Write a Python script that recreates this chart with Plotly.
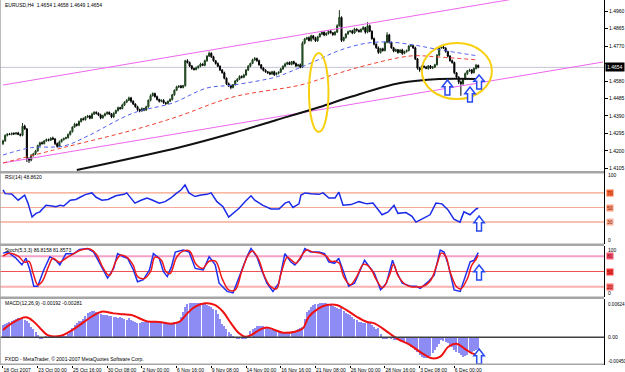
import plotly.graph_objects as go

# ---------------- data ----------------
title_text = "EURUSD,H4  1.4654 1.4658 1.4649 1.4654"
first_open = 4240  # pips after "1."
closes = [
    4255, 4285, 4292, 4290, 4296, 4293, 4298, 4290, 4285, 4335,
    4320, 4160, 4150, 4175, 4185, 4200, 4230, 4245, 4240, 4255,
    4262, 4258, 4270, 4265, 4240, 4225, 4250, 4262, 4268, 4272,
    4290, 4305, 4330, 4345, 4340, 4360, 4375, 4370, 4385, 4390,
    4378, 4400, 4410, 4405, 4395, 4380, 4392, 4402, 4410, 4400,
    4385, 4405, 4420, 4435, 4430, 4450, 4465, 4475, 4488, 4470,
    4455, 4440, 4425, 4418, 4430, 4422, 4440, 4475, 4500, 4512,
    4495, 4480, 4470, 4475, 4462, 4458, 4470, 4480, 4505, 4530,
    4548, 4552, 4545, 4555, 4690, 4680, 4662, 4648, 4642, 4652,
    4660, 4672, 4665, 4690, 4715, 4730, 4712, 4690, 4675, 4660,
    4640, 4625, 4595, 4565, 4555, 4545, 4560, 4580, 4590, 4605,
    4600, 4612, 4640, 4660, 4675, 4695, 4702, 4690, 4668, 4650,
    4638, 4630, 4625, 4618, 4630, 4615, 4622, 4628, 4645, 4660,
    4672, 4680, 4670, 4685, 4675, 4662, 4668, 4655, 4785, 4808,
    4815, 4800, 4825, 4812, 4798, 4820, 4835, 4845, 4830, 4838,
    4850, 4842, 4832, 4845, 4880, 4925, 4800, 4815, 4835, 4848,
    4852, 4840, 4862, 4855, 4848, 4860, 4870, 4845, 4880, 4850,
    4810, 4780, 4760, 4735, 4755, 4745, 4790, 4830, 4790, 4760,
    4742, 4750, 4735, 4748, 4730, 4740, 4745, 4770, 4772, 4760,
    4700, 4650, 4640, 4660, 4655, 4648, 4662, 4650, 4655, 4668,
    4720, 4760, 4765, 4758, 4740, 4715, 4690, 4680, 4625, 4600,
    4575, 4565, 4590, 4620, 4635, 4640, 4625, 4648, 4665, 4654,
]
hi_wick = [
    6, 5, 4, 6, 3, 5, 4, 6, 5, 17, 8, 5, 6, 8, 5, 6, 4, 5, 7, 4,
    6, 5, 4, 8, 5, 6, 7, 4, 5, 6, 5, 6, 4, 8, 5, 6, 4, 7, 5, 6,
    5, 8, 6, 5, 4, 7, 5, 6, 5, 4, 6, 5, 4, 6, 5, 7, 5, 6, 7, 6,
    5, 4, 6, 5, 7, 4, 6, 5, 8, 6, 5, 6, 4, 5, 6, 5, 4, 6, 5, 4,
    6, 5, 7, 4, 5, 8, 6, 5, 4, 6, 5, 7, 4, 6, 5, 10, 6, 5, 4, 6,
    5, 4, 6, 5, 7, 5, 4, 6, 5, 6, 5, 7, 4, 6, 5, 6, 8, 5, 6, 4,
    5, 6, 4, 7, 5, 6, 5, 4, 6, 5, 7, 5, 6, 4, 5, 6, 5, 7, 10, 6,
    5, 7, 6, 4, 8, 5, 6, 5, 4, 6, 5, 7, 4, 6, 8, 40, 6, 5, 4, 6,
    5, 6, 7, 4, 5, 6, 8, 4, 20, 6, 5, 6, 4, 7, 5, 6, 5, 15, 6, 4,
    5, 6, 4, 5, 7, 5, 6, 4, 6, 5, 6, 5, 7, 4, 5, 6, 4, 5, 6, 5,
    6, 7, 10, 5, 6, 4, 5, 6, 5, 4, 6, 8, 5, 6, 4, 7, 5, 6, 8, 4,
]
lo_wick = [
    8, 5, 6, 4, 5, 6, 5, 4, 6, 5, 5, 20, 15, 6, 5, 7, 4, 6, 5, 4,
    5, 6, 4, 5, 8, 7, 5, 4, 6, 5, 4, 6, 5, 4, 7, 5, 6, 4, 5, 6,
    6, 4, 5, 7, 6, 8, 5, 4, 6, 5, 7, 5, 4, 6, 5, 4, 6, 5, 4, 8,
    6, 5, 7, 8, 5, 6, 4, 5, 6, 4, 5, 6, 7, 5, 6, 8, 5, 4, 6, 5,
    4, 6, 5, 5, 6, 5, 6, 7, 5, 4, 5, 6, 4, 5, 6, 5, 7, 5, 6, 4,
    6, 5, 6, 7, 8, 10, 5, 4, 6, 5, 6, 5, 4, 6, 5, 4, 5, 6, 5, 7,
    6, 5, 7, 6, 4, 8, 5, 6, 5, 4, 5, 6, 4, 5, 6, 7, 5, 6, 5, 6,
    6, 5, 7, 8, 6, 5, 4, 6, 7, 5, 6, 5, 7, 6, 4, 5, 8, 6, 5, 4,
    5, 6, 4, 7, 5, 6, 5, 8, 6, 5, 6, 7, 5, 8, 6, 5, 4, 6, 7, 5,
    6, 5, 7, 4, 8, 5, 6, 4, 5, 6, 6, 8, 10, 5, 6, 4, 7, 5, 6, 5,
    4, 6, 5, 5, 6, 7, 5, 6, 8, 10, 12, 65, 6, 5, 7, 5, 8, 4, 6, 5,
]

# moving averages (bar index, price pips)
ma_blue_x = [0, 13, 28, 39, 60, 78, 94, 106, 126, 132, 137, 146, 152, 160, 168, 177, 188, 201, 219]
ma_blue_y = [4178, 4218, 4227, 4281, 4406, 4460, 4542, 4558, 4602, 4629, 4653, 4699, 4732, 4765, 4786, 4792, 4778, 4750, 4716]
ma_red_x = [0, 29, 60, 80, 106, 137, 152, 168, 188, 201, 219]
ma_red_y = [4135, 4222, 4314, 4385, 4493, 4558, 4613, 4667, 4716, 4710, 4694]
ma_black_x = [34, 82, 106, 126, 146, 160, 183, 201, 219]
ma_black_y = [4097, 4222, 4298, 4368, 4439, 4493, 4569, 4591, 4591]

# channel lines
chan_x = [0, 276.5]
chan_low_y = [4135, 4683]
chan_up_y = [4558, 5107]

# yellow ellipses (bar0, bar1, price0, price1)
ellipses = [(141, 150, 4303, 4732), (193, 225.3, 4482, 4786)]

# blue arrows: (panel, centre bar, bottom, top)
arrows = [
    ("y", 204.8, 1.4504, 1.4585),
    ("y", 215.2, 1.4466, 1.4547),
    ("y", 219.4, 1.4537, 1.4613),
    ("y2", 219.4, 17.8, 38.4),
    ("y3", 219.4, 33.5, 62.6),
    ("y4", 219.4, -0.00434, -0.00190),
]

# RSI(14)
rsi_label = "RSI(14) 48.8620"
rsi_x = [0, 1, 4, 7, 10, 11.5, 13.4, 15.2, 17, 19.8, 22.6, 24.4, 26.3, 28, 31, 33.6, 35.5, 38.2, 41, 42.9,
         45.6, 48.4, 52, 55.8, 57, 59, 60.8, 63.6, 66.4, 69, 72, 74.7, 77.4, 79.3, 82, 83.9, 85.7, 88.5, 91.2, 94,
         95.9, 98.6, 101.4, 104, 106, 108.8, 111.5, 114.3, 116, 119.8, 123.5, 127.2, 130, 131.8, 133.6, 136.4, 137.3, 139.2, 142, 145.6,
         147.5, 150.2, 153, 154.8, 156.7, 160.4, 164, 167.7, 170.5, 172.4, 174.7, 177.5, 180.2, 182, 185.7, 188.5, 190.3, 193, 196.8, 199.5,
         202.3, 205, 207.8, 210.6, 212.4, 215.2, 218, 219]
rsi_v = [74, 69, 68.5, 60, 67, 56, 37, 42, 44, 53, 52, 51, 53, 52, 60, 61, 64, 68, 70, 64,
         60, 61, 66, 68, 70, 63, 56, 60, 63, 60, 56, 58, 63, 68, 74, 81, 70, 65, 67, 68,
         70, 58, 51, 37, 42, 49, 58, 66, 60, 53, 48, 48, 56, 58, 50, 55, 67, 70, 69, 68,
         70, 63, 63, 71, 53, 54, 58, 55, 56, 49, 40, 44, 53, 42, 43, 38, 30, 34, 40, 56,
         55, 47, 34, 30, 44, 40, 48, 48.9]
rsi_levels = [70, 50, 30]

# Stochastic(5,3,3)
stoch_label = "Stoch(5,3,3) 86.8158 81.8573"
st_main_x = [0, 2.3, 6, 8.7, 10.6, 12.4, 14.2, 16, 18.8, 21.6, 24.3, 26.2, 29, 32.6, 35.3, 39, 41.8, 44.5, 48.2, 51,
             52.8, 55.5, 57.4, 60.1, 62, 64.7, 67.5, 69.3, 72, 73.9, 75.7, 77.6, 79.4, 83, 85.8, 88.6, 92.3, 95, 97.8, 99.6,
             103.3, 106, 108.8, 112.4, 114.3, 117, 118.9, 121.6, 124.4, 127.1, 129.9, 132.6, 134.5, 137.2, 139.1, 141.8, 145.5, 148.2, 150.1, 152.8,
             154.7, 156.5, 159.3, 162, 164.8, 166.6, 169.4, 171.2, 174, 176.7, 179.5, 181.3, 184, 187.7, 190.5, 192.3, 196, 198.7, 201.5, 203.3,
             205.2, 207.9, 210.7, 213.4, 215.3, 217.1, 219]
st_main_v = [86, 88, 76, 63, 76, 53, 21, 21, 53, 79, 72, 63, 85, 85, 93, 95, 88, 66, 37, 56,
             85, 79, 76, 53, 30, 34, 53, 85, 76, 50, 40, 59, 88, 92, 88, 56, 53, 79, 63, 27,
             11, 8, 40, 79, 95, 79, 56, 27, 11, 27, 85, 69, 63, 76, 95, 88, 88, 85, 69, 66,
             76, 53, 21, 27, 56, 72, 56, 46, 14, 27, 72, 50, 27, 21, 21, 17, 30, 43, 92, 88,
             63, 14, 11, 43, 69, 72, 86.8]
st_sig_x = [0, 3, 7, 10, 12, 14, 16, 18, 21, 23, 26, 29, 33, 36, 40, 43, 46, 49, 52, 54,
            57, 60, 62, 65, 68, 70, 73, 75, 77, 80, 83, 86, 89, 92, 95, 98, 101, 104, 107, 110,
            113, 115, 118, 120, 123, 126, 128, 131, 133, 135, 138, 140, 143, 146, 149, 151, 153, 155, 157, 160,
            163, 166, 168, 170, 172, 175, 178, 180, 182, 185, 188, 191, 193, 197, 200, 202, 204, 206, 209, 211,
            214, 216, 218, 219]
st_sig_v = [80, 86, 80, 68, 70, 45, 24, 30, 60, 76, 68, 76, 86, 92, 94, 84, 58, 42, 70, 82,
            78, 62, 40, 36, 50, 78, 72, 50, 46, 78, 90, 90, 64, 56, 70, 70, 36, 14, 14, 50,
            82, 90, 72, 46, 22, 16, 44, 78, 72, 66, 84, 92, 88, 86, 80, 70, 70, 66, 40, 24,
            40, 64, 62, 52, 34, 18, 42, 64, 42, 26, 20, 20, 20, 32, 64, 86, 80, 50, 20, 16,
            36, 62, 74, 81.9]
stoch_levels = [80, 50, 20]

# MACD(12,26,9): histogram per bar (1e-5 units) and signal points
macd_label = "MACD(12,26,9) -0.00192 -0.00281"
macd_hist = [
    200, 215, 230, 245, 260, 280, 300, 310, 310, 305,
    290, 270, 240, 170, 130, 90, 40, -15, -20, 0,
    10, 15, 20, 10, 5, 15, 20, 25, 15, 20,
    60, 90, 150, 200, 240, 260, 270, 300, 350, 400,
    420, 430, 425, 410, 400, 380, 370, 360, 365, 350,
    340, 335, 330, 320, 330, 315, 300, 290, 310, 280,
    260, 250, 240, 230, 245, 250, 255, 260, 250, 265,
    270, 265, 255, 250, 230, 225, 220, 228, 235, 245,
    255, 260, 330, 420, 500, 550, 560, 565, 564, 560,
    555, 560, 550, 540, 525, 510, 490, 460, 440, 380,
    300, 220, 180, 130, 90, 60, 30, 0, -20, -16,
    -25, -30, -16, 30, 100, 140, 160, 180, 184, 190,
    180, 170, 150, 130, 120, 119, 100, 90, 92, 92,
    95, 85, 90, 95, 92, 110, 130, 150, 173, 300,
    420, 444, 500, 525, 540, 550, 555, 560, 555, 553,
    540, 525, 510, 490, 470, 460, 470, 430, 400, 380,
    363, 330, 300, 280, 254, 245, 240, 235, 230, 228,
    200, 170, 140, 146, 60, -16, -20, -16, -10, -30,
    -40, -44, -50, -60, -80, -98, -110, -130, -150, -179,
    -200, -240, -280, -315, -330, -340, -342, -300, -250, -206,
    -160, -110, -44, -60, -72, -100, -130, -153, -200, -240,
    -261, -290, -315, -300, -280, -260, -240, -220, -200, -192,
]
macd_sig_x = [0, 4, 10.6, 14.2, 17.9, 20.6, 26.2, 30.7, 35.3, 40.8, 45.4, 50.9, 55.5, 59.2, 66.5, 72, 77.6, 81.2, 84.9, 88.6,
              93.2, 97.8, 101.4, 105.1, 108.8, 111.5, 114.3, 118, 121.6, 125.3, 129, 134.5, 138.2, 140.9, 145.5, 149.2, 153.8, 158.3, 163, 167.5,
              171.2, 174.9, 178.5, 182.2, 187.7, 193.2, 197.8, 201.5, 205.2, 209, 212.5, 216.2, 219]
macd_sig_v = [119, 228, 325, 254, 119, 37, 21, 92, 200, 335, 417, 390, 374, 363, 260, 250, 222, 250, 390, 498,
              553, 525, 417, 228, 65, 10, 37, 119, 162, 119, 76, 92, 146, 335, 472, 525, 525, 444, 335, 254,
              228, 146, 54, -32, -125, -261, -342, -315, -153, -105, -179, -261, -281]

# axes labels
price_ticks = [1.4960, 1.4865, 1.4770, 1.4675, 1.4580, 1.4485, 1.4390, 1.4295, 1.4200, 1.4105]
date_tick_bars = [0, 16, 32, 48, 64, 80, 96, 112, 128, 144, 160, 176, 192, 208]
date_tick_text = ["18 Oct 2007", "23 Oct 00:00", "25 Oct 16:00", "30 Oct 08:00", "2 Nov 00:00",
                  "6 Nov 16:00", "9 Nov 08:00", "14 Nov 00:00", "16 Nov 16:00", "21 Nov 08:00",
                  "26 Nov 00:00", "28 Nov 16:00", "3 Dec 08:00", "6 Dec 00:00"]
macd_top_label, macd_bot_label = "0.00624", "-0.00450"
footer = "FXDD - MetaTrader, \u00a9 2001-2007 MetaQuotes Software Corp."

# ---------------- derived plotting values ----------------
def P(v):
    return 1 + v / 10000.0

bars = list(range(len(closes)))
c = [P(v) for v in closes]
o = [P(first_open)] + c[:-1]
h = [max(oo, cc) + w / 10000.0 for oo, cc, w in zip(o, c, hi_wick)]
l = [min(oo, cc) - w / 10000.0 for oo, cc, w in zip(o, c, lo_wick)]

W, H = 625, 372
ML, MR, MT, MB = 0, 21, 0, 7
PW, PH = W - ML - MR, H - MT - MB
def py(ypx):
    return 1 - (ypx - MT) / PH
def pxx(xpx):
    return (xpx - ML) / PW

FONT = "Liberation Sans"
fig = go.Figure()

# main panel
fig.add_trace(go.Scatter(x=chan_x, y=[P(v) for v in chan_up_y], mode="lines",
                         line=dict(color="#ee66ee", width=1), yaxis="y"))
fig.add_trace(go.Scatter(x=chan_x, y=[P(v) for v in chan_low_y], mode="lines",
                         line=dict(color="#ee66ee", width=1), yaxis="y"))
fig.add_trace(go.Scatter(x=ma_black_x, y=[P(v) for v in ma_black_y], mode="lines",
                         line=dict(color="#111111", width=2, shape="spline"), yaxis="y"))
fig.add_trace(go.Scatter(x=ma_red_x, y=[P(v) for v in ma_red_y], mode="lines",
                         line=dict(color="#f04030", width=1, dash="4px,3px", shape="spline"), yaxis="y"))
fig.add_trace(go.Scatter(x=ma_blue_x, y=[P(v) for v in ma_blue_y], mode="lines",
                         line=dict(color="#5060f0", width=1, dash="4px,3px", shape="spline"), yaxis="y"))
fig.add_trace(go.Candlestick(x=bars, open=o, high=h, low=l, close=c, yaxis="y",
                             whiskerwidth=0,
                             increasing=dict(line=dict(color="#1a3a1a", width=1), fillcolor="#2f8a2f"),
                             decreasing=dict(line=dict(color="#000000", width=1), fillcolor="#000000")))

# RSI
fig.add_trace(go.Scatter(x=rsi_x, y=rsi_v, mode="lines", line=dict(color="#1a2ae8", width=1.5), yaxis="y2"))
# Stoch
fig.add_trace(go.Scatter(x=st_main_x, y=st_main_v, mode="lines", line=dict(color="#2030f0", width=1.5), yaxis="y3"))
fig.add_trace(go.Scatter(x=st_sig_x, y=st_sig_v, mode="lines", line=dict(color="#f01818", width=1.5, shape="spline"), yaxis="y3"))
# MACD
fig.add_trace(go.Bar(x=bars, y=[v / 100000.0 for v in macd_hist], width=0.5,
                     marker=dict(color="#8c8cf4", line=dict(width=0)), yaxis="y4"))
fig.add_trace(go.Scatter(x=macd_sig_x, y=[v / 100000.0 for v in macd_sig_v], mode="lines",
                         line=dict(color="#f01010", width=2, shape="spline"), yaxis="y4"))

shapes = []
# bid line
shapes.append(dict(type="line", xref="x domain", x0=0, x1=1, yref="y", y0=c[-1], y1=c[-1],
                   line=dict(color="#c4c4d4", width=1), layer="below"))
# level lines
for lv, col, wd in zip(rsi_levels, ["#f08a66", "#f4aa96", "#f8c0b0"], [1, 1, 2]):
    shapes.append(dict(type="line", xref="x domain", x0=0, x1=1, yref="y2", y0=lv, y1=lv,
                       line=dict(color=col, width=wd), layer="below"))
for lv, col, wd in zip(stoch_levels, ["#f4a0c8", "#f05050", "#f8b0b0"], [2, 1, 2]):
    shapes.append(dict(type="line", xref="x domain", x0=0, x1=1, yref="y3", y0=lv, y1=lv,
                       line=dict(color=col, width=wd), layer="below"))
shapes.append(dict(type="line", xref="x domain", x0=0, x1=1, yref="y4", y0=0, y1=0,
                   line=dict(color="#404040", width=1.5)))
# ellipses
for b0, b1, p0, p1 in ellipses:
    shapes.append(dict(type="circle", xref="x", yref="y", x0=b0, x1=b1, y0=P(p0), y1=P(p1),
                       line=dict(color="#f8d010", width=2)))
# arrows
for ref, cx, y0, y1 in arrows:
    hw = 2.4
    sw = 1.1
    yh = y1 - 0.45 * (y1 - y0)
    path = (f"M {cx},{y1} L {cx + hw},{yh} L {cx + sw},{yh} L {cx + sw},{y0} "
            f"L {cx - sw},{y0} L {cx - sw},{yh} L {cx - hw},{yh} Z")
    shapes.append(dict(type="path", xref="x", yref=ref, path=path, fillcolor="white",
                       line=dict(color="#2848f0", width=1.5)))
# separators / frame
for a, b in [(171, 173.5), (243.5, 246), (296.5, 299), (363.5, 365)]:
    shapes.append(dict(type="rect", xref="paper", yref="paper", x0=0, x1=1, y0=py(b), y1=py(a),
                       fillcolor="#a6a6a6", line=dict(width=0)))
shapes.append(dict(type="line", xref="paper", yref="paper", x0=0, x1=0, y0=0, y1=1,
                   line=dict(color="#a6a6a6", width=1.5)))

ann = []
def txt(x, y, s, **kw):
    d = dict(xref="paper", yref="paper", x=x, y=y, text=s, showarrow=False,
             font=dict(family=FONT, size=5, color="black"), xanchor="left", yanchor="middle")
    d.update(kw)
    ann.append(d)

txt(pxx(3), py(5), title_text)
txt(pxx(3), py(177), rsi_label)
txt(pxx(3), py(250), stoch_label)
txt(pxx(3), py(303), macd_label)
txt(pxx(3), py(359), footer)
rx = 1 + 2 / PW
txt(rx, py(175), "100")
txt(rx, py(240), "0")
txt(rx, py(250), "100")
txt(rx, py(293), "0")
txt(rx, py(304), macd_top_label, font=dict(family=FONT, size=4.6, color="black"))
txt(rx, py(361), macd_bot_label, font=dict(family=FONT, size=4.6, color="black"))
for lv, col in zip(rsi_levels, ["#ff6a3a", "#ff9a7a", "#ffb4a0"]):
    ann.append(dict(xref="paper", yref="y2", x=rx, y=lv, text=str(lv), showarrow=False,
                    font=dict(family=FONT, size=5, color="#802000"), bgcolor=col,
                    xanchor="left", yanchor="middle", borderpad=0))
for lv, col in zip(stoch_levels, ["#ff5a7a", "#ff3a3a", "#ff6a6a"]):
    ann.append(dict(xref="paper", yref="y3", x=rx, y=lv, text=str(lv), showarrow=False,
                    font=dict(family=FONT, size=5, color="#800000"), bgcolor=col,
                    xanchor="left", yanchor="middle", borderpad=0))
ann.append(dict(xref="paper", yref="y4", x=rx, y=0, text="0.00", showarrow=False,
                font=dict(family=FONT, size=5, color="black"), xanchor="left", yanchor="middle"))
ann.append(dict(xref="paper", yref="y", x=1 + 1 / PW, y=c[-1], text=f"{c[-1]:.4f}", showarrow=False,
                font=dict(family=FONT, size=5, color="white"), bgcolor="black",
                xanchor="left", yanchor="middle", borderpad=1))

axis_common = dict(showgrid=False, zeroline=False, showline=True, linecolor="black", linewidth=1,
                   side="right", anchor="x", fixedrange=True, automargin=False)
fig.update_layout(
    width=W, height=H, margin=dict(l=ML, r=MR, t=MT, b=MB, autoexpand=False),
    paper_bgcolor="white", plot_bgcolor="white", showlegend=False, hovermode=False,
    font=dict(family=FONT, size=5, color="black"),
    bargap=0,
    xaxis=dict(range=[-1.38, 276.96], showgrid=False, zeroline=False, showline=False,
               anchor="y4", tickmode="array", tickvals=date_tick_bars, ticktext=date_tick_text,
               ticks="outside", ticklen=2, tickcolor="black", ticklabelposition="outside right",
               tickangle=0, automargin=False,
               tickfont=dict(family=FONT, size=5), rangeslider=dict(visible=False), fixedrange=True),
    yaxis=dict(domain=[py(171), py(0)], range=[1.4960 - 160 / 1842, 1.4960 + 11 / 1842],
               tickmode="array", tickvals=price_ticks,
               ticktext=["" if abs(t - 1.4675) < 1e-9 else f"{t:.4f}" for t in price_ticks],
               ticks="outside", ticklen=3, tickcolor="black", tickfont=dict(family=FONT, size=5),
               **axis_common),
    yaxis2=dict(domain=[py(244), py(171)], range=[0, 100], showticklabels=False, ticks="", **axis_common),
    yaxis3=dict(domain=[py(297), py(246)], range=[0, 100], showticklabels=False, ticks="", **axis_common),
    yaxis4=dict(domain=[py(365), py(299)], range=[-0.00450, 0.00624], showticklabels=False, ticks="", **axis_common),
    shapes=shapes, annotations=ann,
)

fig.write_html("out.html")
